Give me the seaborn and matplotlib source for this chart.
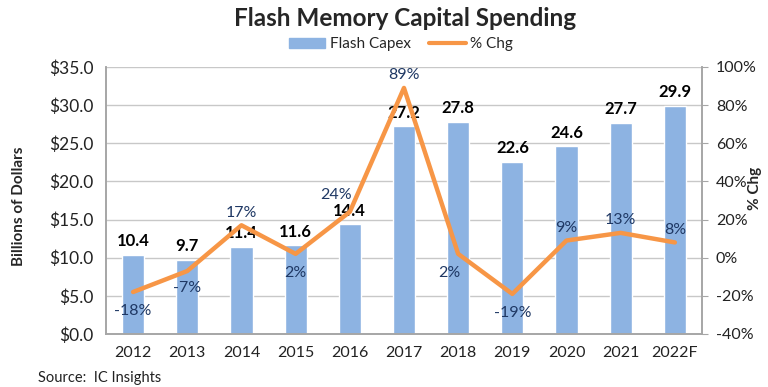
import matplotlib
matplotlib.use("Agg")
import matplotlib.pyplot as plt
import numpy as np
import pandas as pd
import seaborn as sns
from matplotlib.lines import Line2D
from matplotlib.patches import Patch
from matplotlib.ticker import FuncFormatter, MultipleLocator, FixedLocator

# -----------------------------
# Data
# -----------------------------
years = ["2012", "2013", "2014", "2015", "2016", "2017", "2018", "2019", "2020", "2021", "2022F"]
capex = [10.4, 9.7, 11.4, 11.6, 14.4, 27.2, 27.8, 22.6, 24.6, 27.7, 29.9]
pct_chg = [-18, -7, 17, 2, 24, 89, 2, -19, 9, 13, 8]
# label placement for % labels: (dx points, dy points)
pct_offsets = [(0, -14), (0, -12), (0, 9), (0, -14), (-10, 12), (0, 9),
               (-6, -14), (0, -14), (0, 9), (0, 9), (0, 9)]

BAR_COLOR = "#8db3e2"
LINE_COLOR = "#f79646"
LABEL_BLUE = "#1f3864"
GRID = "#c8c8c8"

df = pd.DataFrame({"year": years, "capex": capex, "pct": pct_chg})

sns.set_style("white")
plt.rcParams["font.family"] = ["Lato", "DejaVu Sans"]

fig = plt.figure(figsize=(7.68, 3.87), dpi=100)
ax = fig.add_axes([0.138, 0.137, 0.776, 0.69])

# bars
sns.barplot(data=df, x="year", y="capex", color=BAR_COLOR, width=0.41,
            saturation=1, ax=ax, zorder=2)
ax.set_xlim(-0.5, len(years) - 0.5)
ax.set_ylim(0, 35)
ax.yaxis.set_major_locator(MultipleLocator(5))
ax.yaxis.set_major_formatter(FuncFormatter(lambda v, p: f"${v:.1f}"))
ax.grid(axis="y", color=GRID, linewidth=1, zorder=0)
ax.set_axisbelow(True)
ax.set_xlabel("")
ax.set_ylabel("Billions of Dollars", fontsize=11, fontweight="bold")
ax.yaxis.set_label_coords(-0.135, 0.48)

for i, v in enumerate(capex):
    ax.annotate(f"{v:.1f}", (i, v), xytext=(0, 4), textcoords="offset points",
                ha="center", va="bottom", fontsize=12, fontweight="bold", color="black",
                zorder=5)

# percent change line on secondary axis
ax2 = ax.twinx()
sns.lineplot(x=np.arange(len(years)), y=pct_chg, color=LINE_COLOR, linewidth=3.2,
             ax=ax2, zorder=3)
ax2.set_ylim(-40, 100)
ax2.yaxis.set_major_locator(MultipleLocator(20))
ax2.yaxis.set_major_formatter(FuncFormatter(lambda v, p: f"{v:.0f}%"))
ax2.set_ylabel("")

for i, (v, (dx, dy)) in enumerate(zip(pct_chg, pct_offsets)):
    ax2.annotate(f"{v}%", (i, v), xytext=(dx, dy), textcoords="offset points",
                 ha="center", va="center", fontsize=11.5, color=LABEL_BLUE)

# spines and ticks
for a in (ax, ax2):
    a.spines["top"].set_visible(False)
    for s in ("left", "right", "bottom"):
        a.spines[s].set_color("#a6a6a6")
        a.spines[s].set_linewidth(1.2)
ax.tick_params(axis="y", length=0, labelsize=12.5, colors="#222222", pad=9)
ax2.tick_params(axis="y", length=4, color="#a6a6a6", labelsize=11.5, labelcolor="#222222", pad=6)
ax.tick_params(axis="x", which="major", length=0, labelsize=11.5, labelcolor="#222222", pad=9)
ax.xaxis.set_minor_locator(FixedLocator(np.arange(-0.5, len(years), 1.0)))
ax.tick_params(axis="x", which="minor", length=5, color="#a6a6a6", width=1.2)

# right axis title, tucked next to the short tick labels like the original
fig.text(0.983, 0.512, "% Chg", rotation=90, ha="center", va="center",
         fontsize=11, fontweight="bold")

# title and legend
fig.text(0.527, 0.952, "Flash Memory Capital Spending", ha="center", va="center",
         fontsize=17.5, fontweight="bold")
handles = [Patch(color=BAR_COLOR, label="Flash Capex"),
           Line2D([0], [0], color=LINE_COLOR, linewidth=3, label="% Chg")]
fig.legend(handles=handles, loc="center", bbox_to_anchor=(0.522, 0.886), ncol=2,
           frameon=False, fontsize=11, handlelength=2.4, handleheight=0.6,
           columnspacing=1.2, handletextpad=0.3)

fig.text(0.05, 0.022, "Source:  IC Insights", ha="left", va="center", fontsize=10.5,
         color="#222222")

fig.savefig("out.png", dpi=100)
